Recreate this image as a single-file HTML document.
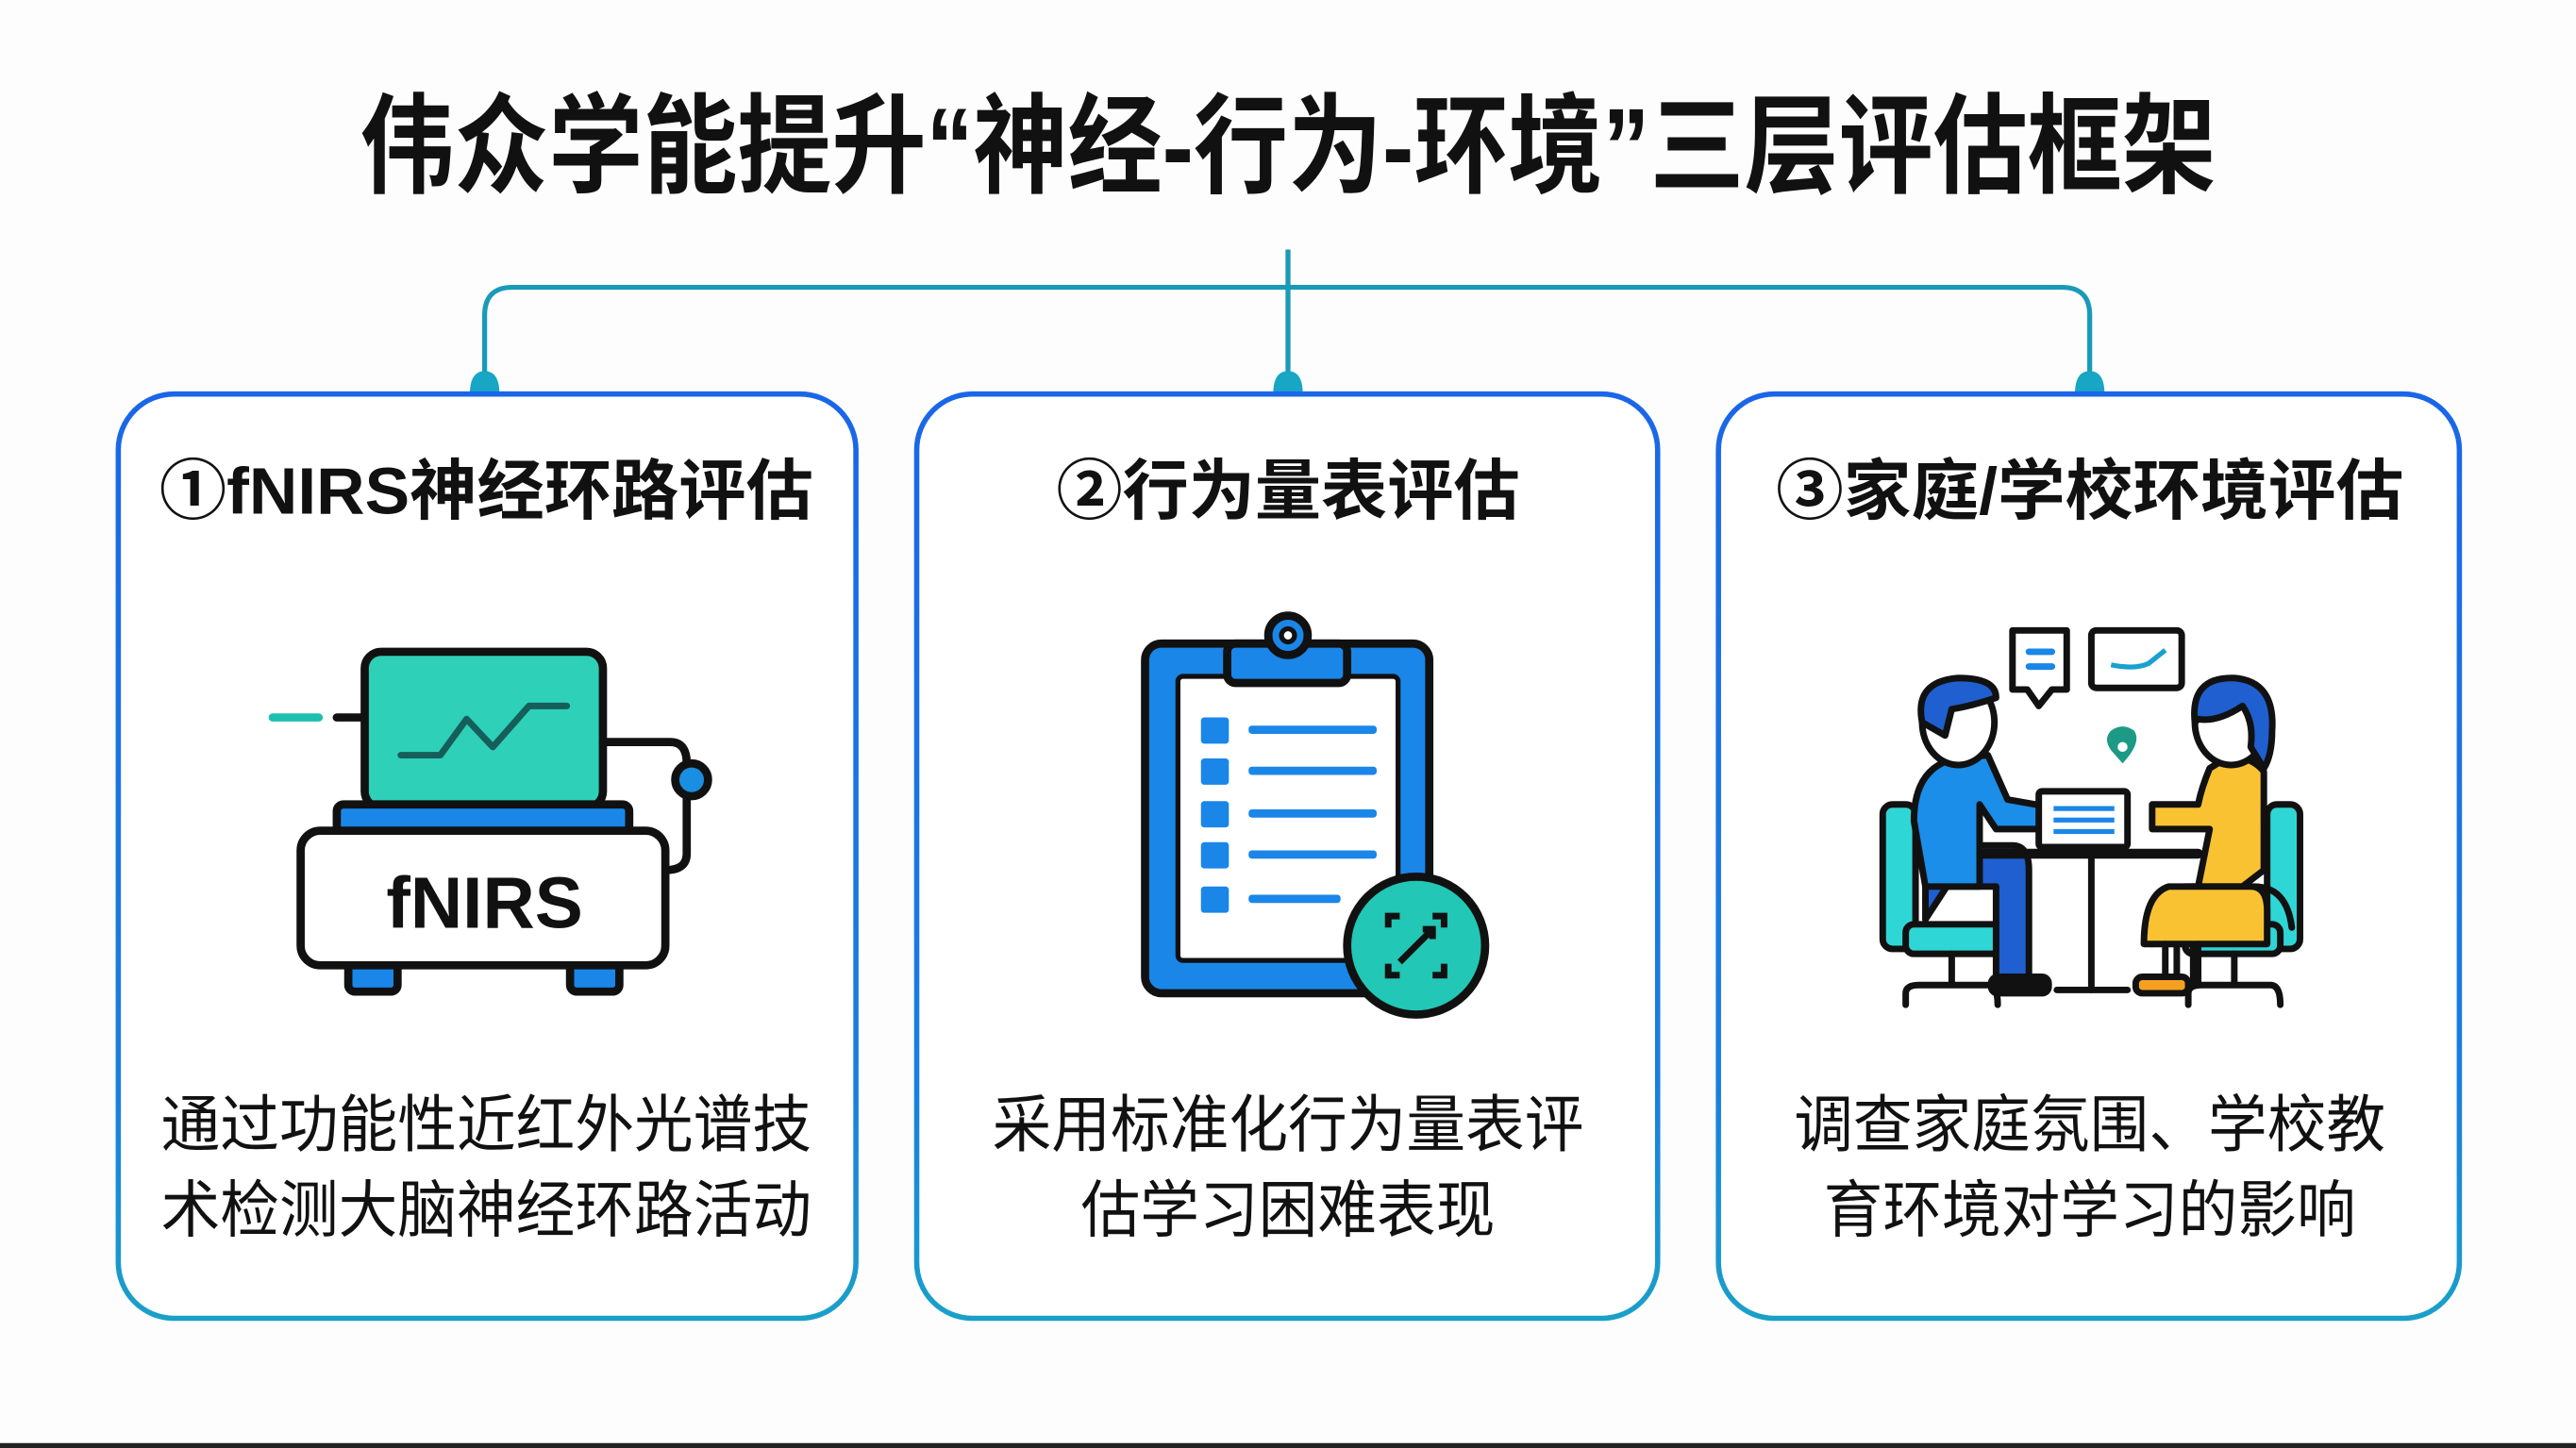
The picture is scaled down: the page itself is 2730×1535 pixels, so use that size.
<!DOCTYPE html>
<html><head><meta charset="utf-8"><style>
html,body{margin:0;padding:0;background:#fdfdfd;}
svg{display:block;}
text{font-family:"Liberation Sans","Noto Sans CJK SC",sans-serif;}
</style></head><body>
<svg width="2730" height="1535" viewBox="0 0 1568 882" preserveAspectRatio="none" xmlns="http://www.w3.org/2000/svg">
<defs>
<linearGradient id="bg" x1="0" y1="0" x2="0" y2="1">
<stop offset="0" stop-color="#1a66e8"/><stop offset="0.75" stop-color="#1a7ee0"/><stop offset="1" stop-color="#1aa0c8"/>
</linearGradient>
</defs>
<rect width="1568" height="882" fill="#fdfdfd"/>
<rect x="0" y="879" width="1568" height="3" fill="#222"/>
<text x="784" y="112" text-anchor="middle" font-size="66" font-weight="bold" fill="#111" textLength="1130" lengthAdjust="spacingAndGlyphs">伟众学能提升“神经-行为-环境”三层评估框架</text>

<!-- connectors -->
<g stroke="#1a9ab8" stroke-width="3" fill="none">
<path d="M784 152 V236"/>
<path d="M295 236 V192 Q295 175 312 175 H1255 Q1272 175 1272 192 V236"/>
</g>
<g fill="#17a6c4">
<path d="M286 240 Q286 226 295 226 Q304 226 304 240 Z"/>
<path d="M775 240 Q775 226 784 226 Q793 226 793 240 Z"/>
<path d="M1263 240 Q1263 226 1272 226 Q1281 226 1281 240 Z"/>
</g>

<!-- boxes -->
<g fill="#fff" stroke="url(#bg)" stroke-width="3.2">
<rect x="72" y="240" width="449" height="563" rx="34"/>
<rect x="558" y="240" width="451" height="563" rx="34"/>
<rect x="1046" y="240" width="451" height="563" rx="34"/>
</g>

<g font-size="40" font-weight="bold" fill="#111" text-anchor="middle">
<text x="296" y="313" textLength="398" lengthAdjust="spacingAndGlyphs">①fNIRS神经环路评估</text>
<text x="784" y="313" textLength="282" lengthAdjust="spacingAndGlyphs">②行为量表评估</text>
<text x="1272" y="313" textLength="382" lengthAdjust="spacingAndGlyphs">③家庭/学校环境评估</text>
</g>
<g font-size="38" fill="#111" text-anchor="middle">
<text x="296" y="698" textLength="396" lengthAdjust="spacingAndGlyphs">通过功能性近红外光谱技</text>
<text x="296" y="750" textLength="396" lengthAdjust="spacingAndGlyphs">术检测大脑神经环路活动</text>
<text x="784" y="698" textLength="360" lengthAdjust="spacingAndGlyphs">采用标准化行为量表评</text>
<text x="784" y="750" textLength="252" lengthAdjust="spacingAndGlyphs">估学习困难表现</text>
<text x="1272" y="698" textLength="360" lengthAdjust="spacingAndGlyphs">调查家庭氛围、学校教</text>
<text x="1272" y="750" textLength="324" lengthAdjust="spacingAndGlyphs">育环境对学习的影响</text>
</g>

<!-- fNIRS icon -->
<g stroke="#111" stroke-width="5" stroke-linejoin="round" stroke-linecap="round">
<line x1="166" y1="437" x2="194" y2="437" stroke="#1cbfb0"/>
<line x1="205" y1="437" x2="222" y2="437"/>
<rect x="222" y="397" width="145" height="95" rx="10" fill="#2ed0b8"/>
<polyline points="244,460 268,460 284,438 300,455 322,430 345,430" fill="none" stroke="#155e5a" stroke-width="4"/>
<path d="M367 452 H408 Q418 452 418 465 V520 Q418 530 405 530" fill="none"/>
<circle cx="421" cy="475" r="10" fill="#1a8ee0"/>
<rect x="205" y="490" width="178" height="17" rx="4" fill="#1a86e8"/>
<rect x="212" y="585" width="30" height="19" rx="4" fill="#1a86e8"/>
<rect x="347" y="585" width="30" height="19" rx="4" fill="#1a86e8"/>
<rect x="183" y="506" width="222" height="82" rx="12" fill="#fff"/>
</g>
<text x="295" y="565" text-anchor="middle" font-size="44" font-weight="bold" fill="#111">fNIRS</text>

<!-- clipboard icon -->
<g stroke="#111" stroke-width="5" stroke-linejoin="round">
<rect x="697" y="392" width="173" height="213" rx="10" fill="#1a86e8"/>
<rect x="717" y="412" width="134" height="173" rx="3" fill="#fff" stroke-width="3"/>
<rect x="747" y="392" width="73" height="24" rx="5" fill="#1a86e8"/>
<circle cx="784" cy="387" r="12" fill="#1a86e8"/>
<circle cx="784" cy="387" r="4" fill="#fff" stroke-width="3"/>
</g>
<g fill="#1a86e8">
<rect x="731" y="437" width="17" height="16" rx="2"/><rect x="760" y="442" width="78" height="5" rx="2"/>
<rect x="731" y="462" width="17" height="16" rx="2"/><rect x="760" y="467" width="78" height="5" rx="2"/>
<rect x="731" y="488" width="17" height="16" rx="2"/><rect x="760" y="493" width="78" height="5" rx="2"/>
<rect x="731" y="513" width="17" height="16" rx="2"/><rect x="760" y="518" width="78" height="5" rx="2"/>
<rect x="731" y="540" width="17" height="16" rx="2"/><rect x="760" y="545" width="56" height="5" rx="2"/>
</g>
<circle cx="862" cy="576" r="42" fill="#22c7b5" stroke="#111" stroke-width="5"/>
<g stroke="#111" stroke-width="4" fill="none">
<path d="M845 565 V558 H852 M872 558 H879 V565 M879 587 V594 H872 M852 594 H845 V587"/>
<path d="M852 586 L872 566 M866 566 H872 V572"/>
</g>

<!-- people icon -->
<g stroke="#111" stroke-width="4" stroke-linejoin="round" stroke-linecap="round">
<path d="M1225 384 H1258 V420 H1249 L1241 430 L1234 420 H1225 Z" fill="#fff"/>
<rect x="1273" y="384" width="55" height="35" rx="3" fill="#fff"/>
<!-- chairs -->
<rect x="1146" y="490" width="20" height="88" rx="6" fill="#2fd6d6"/>
<rect x="1160" y="563" width="58" height="18" rx="5" fill="#2fd6d6"/>
<rect x="1380" y="490" width="20" height="88" rx="6" fill="#2fd6d6"/>
<rect x="1330" y="563" width="58" height="18" rx="5" fill="#2fd6d6"/>
<path d="M1188 581 V600 M1160 612 V605 Q1160 600 1168 600 H1210 Q1216 600 1216 612" fill="none"/>
<path d="M1360 581 V600 M1332 612 V605 Q1332 600 1340 600 H1382 Q1388 600 1388 612" fill="none"/>
<!-- man -->
<path d="M1172 560 V530 Q1172 515 1188 515 H1225 Q1235 515 1235 530 V600 H1215 V540 H1185 Z" fill="#1f5fd0"/>
<path d="M1165 500 Q1165 468 1190 462 L1210 460 Q1218 478 1222 487 L1250 492 L1250 505 L1215 505 L1205 490 L1205 540 H1172 Z" fill="#1a8ee8"/>
<ellipse cx="1192" cy="440" rx="22" ry="26" fill="#fff"/>
<path d="M1170 440 Q1165 415 1192 413 Q1215 413 1215 425 Q1200 430 1188 432 L1184 448 Z" fill="#1f5fd0"/>
<rect x="1212" y="595" width="35" height="10" rx="4" fill="#111"/>
<!-- woman -->
<path d="M1395 565 Q1392 540 1372 540 H1335 Q1325 540 1325 555 V600 H1315 M1335 560 V600" fill="none"/>
<path d="M1310 575 Q1312 545 1330 540 H1365 L1378 530 L1378 470 Q1372 462 1358 460 L1345 468 Q1340 480 1338 490 L1310 490 L1310 505 L1345 505 L1338 540 Z" fill="#f9c232"/>
<path d="M1305 575 Q1305 545 1320 540 H1370 Q1380 540 1380 555 V575 Z" fill="#f9c232"/>
<path d="M1318 575 V600 M1338 575 V600" fill="none"/>
<ellipse cx="1358" cy="440" rx="22" ry="26" fill="#fff"/>
<path d="M1336 440 Q1333 412 1360 413 Q1385 415 1383 445 Q1383 460 1378 468 L1370 455 Q1372 440 1365 430 Q1350 440 1338 438 Z" fill="#1f5fd0"/>
<rect x="1300" y="595" width="32" height="10" rx="4" fill="#f5a020"/>
<!-- table -->
<line x1="1208" y1="520" x2="1338" y2="520" stroke-width="6"/>
<line x1="1273" y1="520" x2="1273" y2="603"/>
<line x1="1252" y1="603" x2="1295" y2="603"/>
<rect x="1241" y="482" width="54" height="34" rx="2" fill="#fff"/>
<path d="M1285 457 Q1280 450 1285 445 Q1292 440 1299 445 Q1304 452 1292 465 Z" fill="#1d9a86" stroke="none"/>
</g>
<g fill="#1a86e8">
<rect x="1233" y="395" width="18" height="4" rx="2"/><rect x="1233" y="404" width="18" height="4" rx="2"/>
<rect x="1250" y="491" width="37" height="3"/><rect x="1250" y="498" width="37" height="3"/><rect x="1250" y="505" width="37" height="3"/>
</g>
<path d="M1285 405 Q1300 408 1308 404 L1318 396" stroke="#1aa0d0" stroke-width="3" fill="none"/>
<circle cx="1292" cy="455" r="3" fill="#fff"/>
</svg>
</body></html>
